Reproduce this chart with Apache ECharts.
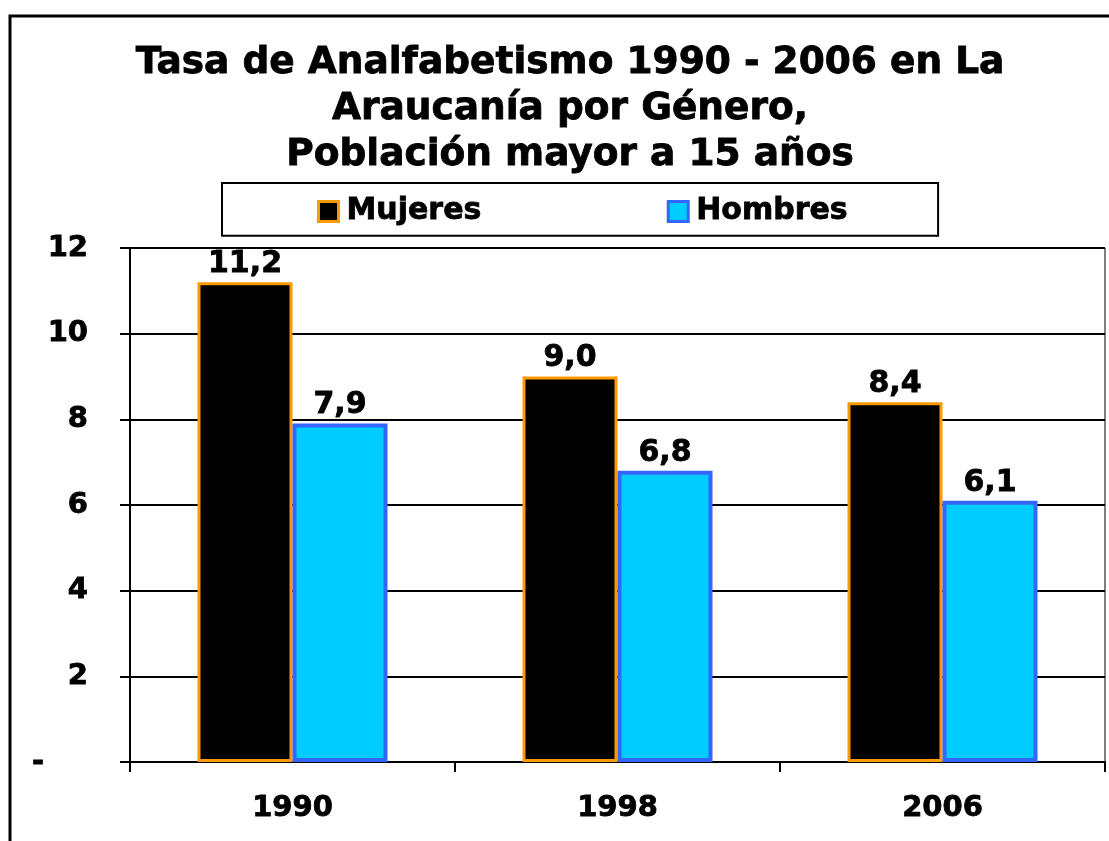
<!DOCTYPE html>
<html>
<head>
<meta charset="utf-8">
<script src="https://cdn.jsdelivr.net/npm/echarts@6/dist/echarts.min.js"></script>
<style>
  html, body { margin: 0; padding: 0; background: #fff; }
  #chart { width: 1109px; height: 841px; }
</style>
</head>
<body>
<div id="chart"></div>
<script>
var years = ["1990", "1998", "2006"];
var mujeres = [11.2, 9.0, 8.4];
var hombres = [7.9, 6.8, 6.1];
var titleText = "Tasa de Analfabetismo 1990 - 2006 en La\nAraucanía por Género,\nPoblación mayor a 15 años";

var font = "DejaVu Sans, Verdana, sans-serif";
// a thin outline to get closer to the heavier Verdana Bold
var heavy = { textBorderColor: "#000", textBorderWidth: 0.8 };

function comma(v) {
  return v.toFixed(1).replace(".", ",");
}

var myChart = echarts.init(document.getElementById("chart"), null, { renderer: "canvas" });

var labelStyle = Object.assign({
  fontFamily: font,
  fontWeight: "bold",
  fontSize: 29,
  color: "#000",
}, heavy);

var option = {
  animation: false,
  backgroundColor: "#fff",
  title: {
    text: titleText,
    left: 565,
    top: 35,
    textAlign: "center",
    textStyle: Object.assign({
      fontFamily: font,
      fontWeight: "bold",
      fontSize: 37.5,
      lineHeight: 46,
      color: "#000",
    }, heavy),
  },
  legend: {
    left: 222,
    top: 183,
    orient: "horizontal",
    padding: [13, 90, 9, 95],
    itemGap: 185,
    itemWidth: 20,
    itemHeight: 20,
    borderColor: "#000",
    borderWidth: 2,
    textStyle: Object.assign({
      fontFamily: font,
      fontWeight: "bold",
      fontSize: 30,
      color: "#000",
      padding: [0, 0, 0, 3],
    }, heavy),
    data: [
      { name: "Mujeres", icon: "rect", itemStyle: { color: "#000", borderColor: "#FF9900", borderWidth: 3 } },
      { name: "Hombres", icon: "rect", itemStyle: { color: "#00CCFF", borderColor: "#3366FF", borderWidth: 3 } },
    ],
  },
  graphic: [
    {
      type: "rect",
      shape: { x: 10, y: 16, width: 1200, height: 900 },
      style: { fill: "none", stroke: "#000", lineWidth: 3 },
      silent: true,
    },
  ],
  grid: {
    left: 130,
    top: 248,
    right: 4,
    bottom: 79,
    show: true,
    borderColor: "#000",
    borderWidth: 1,
  },
  xAxis: {
    type: "category",
    data: years,
    axisLine: { lineStyle: { color: "#000", width: 2 } },
    axisTick: { show: true, length: 10, interval: 0, lineStyle: { color: "#000", width: 2 } },
    axisLabel: Object.assign({ margin: 32 }, labelStyle),
  },
  yAxis: {
    type: "value",
    min: 0,
    max: 12,
    interval: 2,
    axisLine: { show: true, lineStyle: { color: "#000", width: 2 } },
    axisTick: { show: true, length: 10, lineStyle: { color: "#000", width: 2 } },
    splitLine: { show: true, lineStyle: { color: "#000", width: 2 } },
    axisLabel: Object.assign({
      margin: 42,
      formatter: function (value) {
        return value === 0 ? "{dash|-}" : String(value);
      },
      rich: {
        dash: Object.assign({ padding: [0, 44, 0, 0] }, labelStyle),
      },
    }, labelStyle),
  },
  series: [
    {
      name: "Mujeres",
      type: "bar",
      data: mujeres,
      barWidth: 95,
      barGap: "0%",
      itemStyle: { color: "#000", borderColor: "#FF9900", borderWidth: 3 },
      label: Object.assign({
        show: true,
        position: "top",
        distance: 3,
        formatter: function (p) {
          return comma(p.value);
        },
      }, labelStyle, { fontSize: 30 }),
    },
    {
      name: "Hombres",
      type: "bar",
      data: hombres,
      barWidth: 95,
      barGap: "0%",
      itemStyle: { color: "#00CCFF", borderColor: "#3366FF", borderWidth: 4 },
      label: Object.assign({
        show: true,
        position: "top",
        distance: 3,
        formatter: function (p) {
          return comma(p.value);
        },
      }, labelStyle, { fontSize: 30 }),
    },
  ],
};

myChart.setOption(option);
</script>
</body>
</html>
